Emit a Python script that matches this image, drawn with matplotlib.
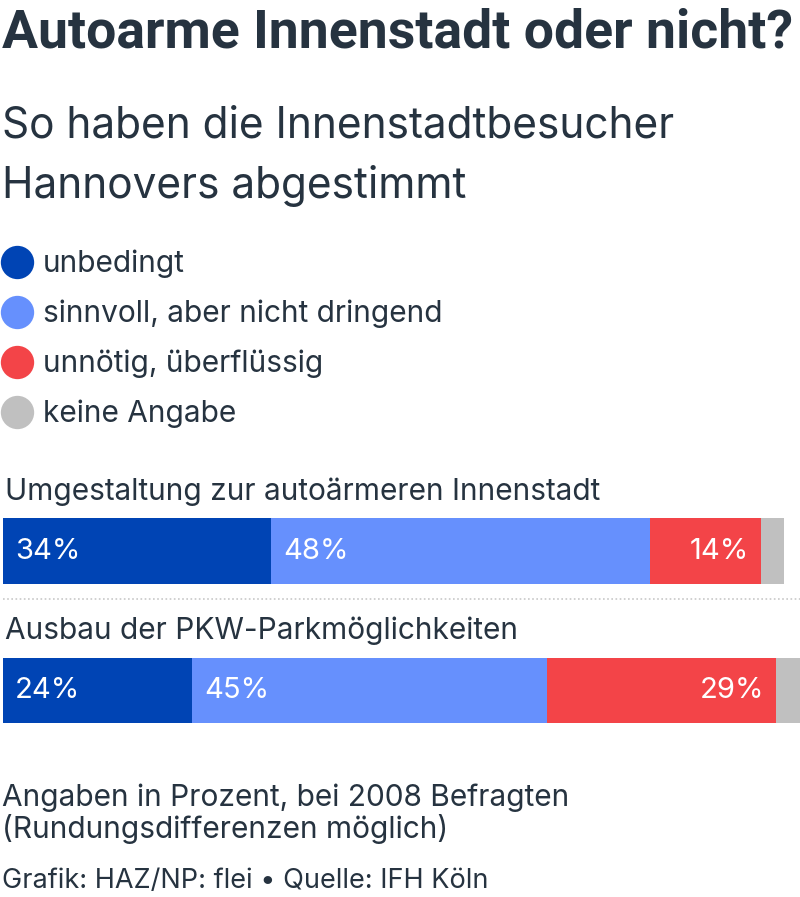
import numpy as np
import matplotlib.pyplot as plt
from matplotlib.lines import Line2D

# Daten
kategorien = ["unbedingt", "sinnvoll, aber nicht dringend", "unnötig, überflüssig", "keine Angabe"]
farben = ["#0044b4", "#6690fd", "#f34448", "#c0c0c0"]
fragen = ["Umgestaltung zur autoärmeren Innenstadt", "Ausbau der PKW-Parkmöglichkeiten"]
unbedingt = [34, 24]
sinnvoll = [48, 45]
unnoetig = [14, 29]
keine_angabe = [3, 3]

W, H = 800, 897
TXT = "#263340"
plt.rcParams['font.family'] = ['Inter', 'DejaVu Sans']

def fx(px):
    return px / W

def fy(py):
    return 1 - py / H

fig = plt.figure(figsize=(W / 100, H / 100), dpi=100)
fig.patch.set_facecolor("white")

# Titel + Untertitel
fig.text(fx(2), fy(47), "Autoarme Innenstadt oder nicht?", family=['Roboto', 'DejaVu Sans'],
         weight='bold', fontsize=38.5, color=TXT, va='baseline')
fig.text(fx(2), fy(138), "So haben die Innenstadtbesucher", fontsize=30.5, color=TXT, va='baseline')
fig.text(fx(2), fy(198), "Hannovers abgestimmt", fontsize=30.5, color=TXT, va='baseline')

# Legende
handles = [Line2D([], [], ls='none', marker='o', markersize=24, markerfacecolor=c,
                  markeredgecolor='none') for c in farben]
fig.legend(handles, kategorien, loc='upper left', bbox_to_anchor=(fx(0), fy(250)),
           frameon=False, fontsize=21.5, borderpad=0, borderaxespad=0,
           handlelength=1.14, handletextpad=0.3, labelspacing=0.72, labelcolor=TXT)

# Balken
ax = fig.add_axes([fx(3), fy(740), fx(797), (740 - 500) / H])
y = np.arange(len(fragen))
hoehe = 0.473
serien = [unbedingt, sinnvoll, unnoetig, keine_angabe]
links = np.zeros(len(fragen))
for werte, farbe in zip(serien, farben):
    ax.barh(y, werte, left=links, height=hoehe, color=farbe, edgecolor='none')
    links = links + np.array(werte)

ax.set_xlim(0, 101)
ax.set_ylim(1.355, -0.366)
ax.axis('off')

pad = 1.5
for i in range(len(fragen)):
    ax.text(0.2, i - hoehe / 2 - 0.13, fragen[i], fontsize=21.5, color=TXT, va='baseline', clip_on=False)
    ax.text(pad, i, f"{unbedingt[i]}%", color='white', fontsize=21, va='center', ha='left')
    ax.text(unbedingt[i] + pad, i, f"{sinnvoll[i]}%", color='white', fontsize=21, va='center', ha='left')
    ax.text(unbedingt[i] + sinnvoll[i] + unnoetig[i] - pad, i, f"{unnoetig[i]}%", color='white',
            fontsize=21, va='center', ha='right')

# gepunktete Trennlinie
ax.axhline(0.344, color='#c8c8c8', ls=(0, (1, 1.5)), lw=1.2, clip_on=False)

# Fußnoten
fig.text(fx(2), fy(806), "Angaben in Prozent, bei 2008 Befragten", fontsize=21.5, color=TXT, va='baseline')
fig.text(fx(2), fy(838), "(Rundungsdifferenzen möglich)", fontsize=21.5, color=TXT, va='baseline')
fig.text(fx(2), fy(888), "Grafik: HAZ/NP: flei • Quelle: IFH Köln", fontsize=19.5, color=TXT, va='baseline')

fig.savefig("out.png", dpi=100, facecolor="white")
